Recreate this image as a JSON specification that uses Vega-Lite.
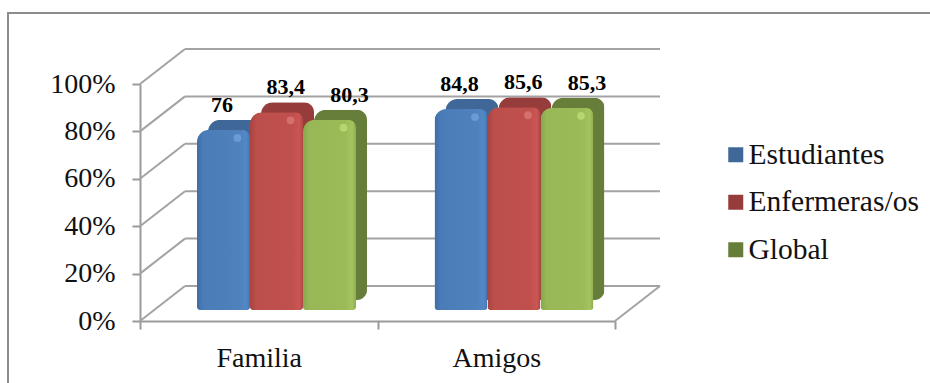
{
  "$schema": "https://vega.github.io/schema/vega-lite/v6.json",
  "autosize": "none",
  "width": 924,
  "height": 372,
  "padding": {"left": 8, "top": 13, "right": -2, "bottom": -2},
  "background": "white",
  "config": {
    "locale": {"number": {"decimal": ",", "thousands": ".", "grouping": [3], "currency": ["", " €"]}},
    "view": {"stroke": "#8c8c8c", "strokeWidth": 2, "fill": "white"},
    "axis": {
      "domainColor": "#9a9a9a", "domainWidth": 2, "tickColor": "#9a9a9a", "tickWidth": 2, "tickSize": 8,
      "labelFont": "Liberation Serif", "labelFontSize": 28, "labelColor": "#111111", "title": null, "grid": false
    },
    "legend": {
      "labelFont": "Liberation Serif", "labelFontSize": 29.5, "labelColor": "#111111", "labelLimit": 300,
      "symbolType": "square", "symbolSize": 225, "symbolStrokeWidth": 0, "rowPadding": 16.5, "labelOffset": -2
    }
  },
  "datasets": {
    "resultados": [
      {"grupo": "Familia", "serie": "Estudiantes", "valor": 76},
      {"grupo": "Familia", "serie": "Enfermeras/os", "valor": 83.4},
      {"grupo": "Familia", "serie": "Global", "valor": 80.3},
      {"grupo": "Amigos", "serie": "Estudiantes", "valor": 84.8},
      {"grupo": "Amigos", "serie": "Enfermeras/os", "valor": 85.6},
      {"grupo": "Amigos", "serie": "Global", "valor": 85.3}
    ],
    "marcas": [{"pct": 0}, {"pct": 20}, {"pct": 40}, {"pct": 60}, {"pct": 80}, {"pct": 100}]
  },
  "resolve": {"scale": {"x": "independent", "y": "independent"}, "axis": {"x": "independent", "y": "independent"}},
  "layer": [
    {
      "data": {"name": "marcas"},
      "encoding": {
        "y": {
          "field": "pct", "type": "quantitative",
          "scale": {"domain": [0, 100], "range": [308, 71], "nice": false},
          "axis": {"values": [0, 20, 40, 60, 80, 100], "labelExpr": "datum.value + '%'", "offset": -132, "labelPadding": 17}
        }
      },
      "layer": [
        {
          "mark": {"type": "rule", "color": "#a3a3a3", "strokeWidth": 2, "x2Offset": 45, "y2Offset": -35},
          "encoding": {
            "x": {"datum": 0, "type": "quantitative", "scale": {"domain": [0, 2], "range": [132, 607]}, "axis": null},
            "x2": {"datum": 0},
            "y2": {"field": "pct"}
          }
        },
        {
          "mark": {"type": "rule", "color": "#a3a3a3", "strokeWidth": 2, "xOffset": 45, "x2Offset": 45, "yOffset": -35},
          "encoding": {
            "x": {"datum": 0, "type": "quantitative", "scale": {"domain": [0, 2], "range": [132, 607]}, "axis": null},
            "x2": {"datum": 2}
          }
        },
        {
          "transform": [{"filter": "datum.pct === 0"}],
          "mark": {"type": "rule", "color": "#a3a3a3", "strokeWidth": 2, "x2Offset": 45, "y2Offset": -35},
          "encoding": {
            "x": {"datum": 2, "type": "quantitative", "scale": {"domain": [0, 2], "range": [132, 607]}, "axis": null},
            "x2": {"datum": 2},
            "y2": {"field": "pct"}
          }
        }
      ]
    },
    {
      "data": {"name": "resultados"},
      "resolve": {"scale": {"xOffset": "independent", "y": "independent", "color": "independent"}, "axis": {"y": "independent"}, "legend": {"color": "independent"}},
      "encoding": {
        "x": {
          "field": "grupo", "type": "nominal", "sort": ["Familia", "Amigos"],
          "scale": {"range": [132, 607], "paddingInner": 0, "paddingOuter": 0},
          "axis": {"labelAngle": 0, "tickBand": "extent", "offset": -64, "labelPadding": 37, "labelBaseline": "alphabetic", "labelFlush": false}
        }
      },
      "layer": [
        {
          "mark": {"type": "bar", "cornerRadiusTopLeft": 12, "cornerRadiusTopRight": 10, "cornerRadiusBottomRight": 10},
          "encoding": {
            "xOffset": {
              "field": "serie", "type": "nominal",
              "scale": {"domain": ["Estudiantes", "Enfermeras/os", "Global"], "range": [68, 227], "paddingInner": 0, "paddingOuter": 0}
            },
            "y": {"field": "valor", "type": "quantitative", "scale": {"domain": [0, 100], "range": [287, 50], "nice": false}, "axis": null},
            "color": {
              "field": "serie", "type": "nominal",
              "scale": {"domain": ["Estudiantes", "Enfermeras/os", "Global"], "range": ["#3f6797", "#963c3a", "#667e39"]},
              "legend": {"title": null, "orient": "none", "legendX": 713, "legendY": 127}
            }
          }
        },
        {
          "encoding": {
            "xOffset": {
              "field": "serie", "type": "nominal",
              "scale": {"domain": ["Estudiantes", "Enfermeras/os", "Global"], "range": [57, 216], "paddingInner": 0, "paddingOuter": 0}
            },
            "y": {"field": "valor", "type": "quantitative", "scale": {"domain": [0, 100], "range": [297, 60], "nice": false}, "axis": null}
          },
          "layer": [
            {
              "transform": [{"filter": "datum.serie === 'Estudiantes'"}],
              "mark": {"type": "bar", "cornerRadiusTopLeft": 12, "cornerRadiusTopRight": 8, "cornerRadiusBottomRight": 3, "cornerRadiusBottomLeft": 3,
                "fill": {"gradient": "linear", "x1": 0, "x2": 1, "y1": 0, "y2": 0, "stops": [{"offset": 0, "color": "#3f6da5"}, {"offset": 0.12, "color": "#4a7cb8"}, {"offset": 0.8, "color": "#4f81bd"}, {"offset": 0.93, "color": "#5388c7"}, {"offset": 1, "color": "#4274ad"}]}}
            },
            {
              "transform": [{"filter": "datum.serie === 'Enfermeras/os'"}],
              "mark": {"type": "bar", "cornerRadiusTopLeft": 12, "cornerRadiusTopRight": 8, "cornerRadiusBottomRight": 3, "cornerRadiusBottomLeft": 3,
                "fill": {"gradient": "linear", "x1": 0, "x2": 1, "y1": 0, "y2": 0, "stops": [{"offset": 0, "color": "#a84340"}, {"offset": 0.12, "color": "#bc4e4b"}, {"offset": 0.8, "color": "#c0504d"}, {"offset": 0.93, "color": "#cb5653"}, {"offset": 1, "color": "#ad4744"}]}}
            },
            {
              "transform": [{"filter": "datum.serie === 'Global'"}],
              "mark": {"type": "bar", "cornerRadiusTopLeft": 12, "cornerRadiusTopRight": 8, "cornerRadiusBottomRight": 3, "cornerRadiusBottomLeft": 3,
                "fill": {"gradient": "linear", "x1": 0, "x2": 1, "y1": 0, "y2": 0, "stops": [{"offset": 0, "color": "#89a64e"}, {"offset": 0.12, "color": "#98b857"}, {"offset": 0.8, "color": "#9bbb59"}, {"offset": 0.93, "color": "#a3c45e"}, {"offset": 1, "color": "#8eab52"}]}}
            }
          ]
        },
        {
          "mark": {"type": "point", "filled": true, "size": 60, "opacity": 0.6, "strokeWidth": 0},
          "encoding": {
            "xOffset": {
              "field": "serie", "type": "nominal",
              "scale": {"domain": ["Estudiantes", "Enfermeras/os", "Global"], "range": [97.5, 203.5], "paddingOuter": 0}
            },
            "y": {"field": "valor", "type": "quantitative", "scale": {"domain": [0, 100], "range": [305, 68], "nice": false}, "axis": null},
            "color": {
              "field": "serie", "type": "nominal",
              "scale": {"domain": ["Estudiantes", "Enfermeras/os", "Global"], "range": ["#7faee6", "#e58683", "#c8ea7e"]},
              "legend": null
            }
          }
        },
        {
          "mark": {"type": "text", "font": "Liberation Serif", "fontWeight": "bold", "fontSize": 22, "color": "#000000", "baseline": "alphabetic", "yOffset": -29},
          "encoding": {
            "xOffset": {
              "field": "serie", "type": "nominal",
              "scale": {"domain": ["Estudiantes", "Enfermeras/os", "Global"], "range": [82, 209.5], "paddingOuter": 0}
            },
            "y": {"field": "valor", "type": "quantitative", "scale": {"domain": [0, 100], "range": [308, 71], "nice": false}, "axis": null},
            "text": {"field": "valor", "type": "quantitative", "format": ".4~r"}
          }
        }
      ]
    }
  ]
}
